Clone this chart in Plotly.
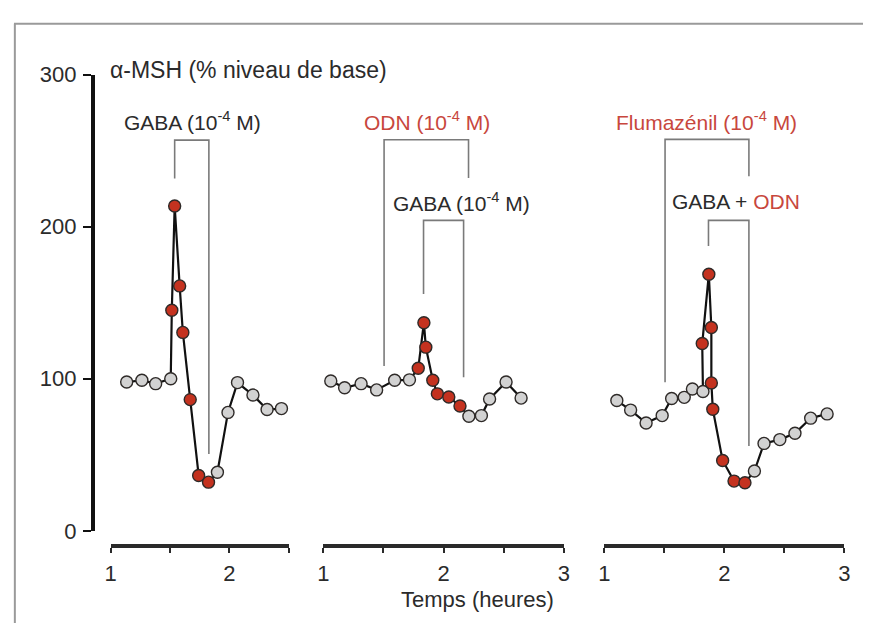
import plotly.graph_objects as go

# The page body keeps its default 8px margin, so the figure is drawn 8px
# in from the window edge; the figure is sized to fill the rest exactly.
OFF = 8
W, H = 877 - 2 * OFF, 644 - 2 * OFF

# ---------------- data ----------------
# Panel 1 : GABA
p1_t = [1.135, 1.263, 1.379, 1.506, 1.515, 1.539, 1.581, 1.608, 1.670, 1.741, 1.824,
        1.899, 1.988, 2.068, 2.198, 2.317, 2.438]
p1_v = [97.9, 99.0, 96.8, 100.0, 145.1, 213.7, 161.1, 130.5, 86.3, 36.4, 32.0,
        38.5, 77.9, 97.5, 89.3, 79.8, 80.4]
p1_red = [0, 0, 0, 0, 1, 1, 1, 1, 1, 1, 1, 0, 0, 0, 0, 0, 0]

# Panel 2 : ODN + GABA
p2_t = [1.062, 1.177, 1.314, 1.443, 1.593, 1.716, 1.789, 1.836, 1.852, 1.910, 1.948,
        2.043, 2.136, 2.210, 2.314, 2.382, 2.519, 2.644]
p2_v = [98.5, 94.1, 96.8, 92.7, 99.0, 99.3, 106.9, 136.9, 120.8, 99.0, 90.1,
        88.0, 82.1, 75.4, 75.8, 86.7, 97.9, 87.3]
p2_red = [0, 0, 0, 0, 0, 0, 1, 1, 1, 1, 1, 1, 1, 0, 0, 0, 0, 0]

# Panel 3 : Flumazenil + GABA + ODN
p3_t = [1.104, 1.219, 1.348, 1.482, 1.561, 1.666, 1.734, 1.822, 1.816, 1.871, 1.892,
        1.892, 1.904, 1.986, 2.081, 2.172, 2.251, 2.331, 2.463, 2.589, 2.720, 2.857]
p3_v = [85.7, 79.4, 70.9, 75.8, 87.0, 87.8, 93.3, 91.6, 123.2, 168.8, 133.7,
        97.3, 80.0, 46.3, 32.7, 31.6, 39.3, 57.5, 60.0, 64.2, 74.1, 76.9]
p3_red = [0, 0, 0, 0, 0, 0, 0, 0, 1, 1, 1, 1, 1, 1, 1, 1, 0, 0, 0, 0, 0, 0]

# Treatment brackets (time, value) paths
br1_gaba_t = [1.539, 1.539, 1.827, 1.827]
br1_gaba_v = [231.8, 257.0, 257.0, 50.5]
br2_odn_t = [1.505, 1.505, 2.207, 2.207]
br2_odn_v = [108.4, 257.2, 257.2, 232.0]
br2_gaba_t = [1.833, 1.833, 2.166, 2.166]
br2_gaba_v = [155.8, 204.2, 204.2, 101.0]
br3_flu_t = [1.506, 1.506, 2.205, 2.205]
br3_flu_v = [97.7, 257.5, 257.5, 233.2]
br3_mix_t = [1.868, 1.868, 2.205, 2.205]
br3_mix_v = [187.3, 204.2, 204.2, 55.8]

y_ticks = [0, 100, 200, 300]
x1_ticks = [1, 1.5, 2, 2.5]
x1_text = ["1", "", "2", ""]
x23_ticks = [1, 1.5, 2, 2.5, 3]
x23_text = ["1", "", "2", "", "3"]

y_title = "α-MSH (% niveau de base)"
x_title = "Temps (heures)"

# ---------------- style ----------------
FONT = "Liberation Sans, Arial, sans-serif"
TXT = "#2b2b2b"
RED_TXT = "#c8473d"
RED = "#c4321f"
GREY = "#d2d2d2"
EDGE = "#2e2a28"
BR = "#7a7a7a"
FS_TITLE = 23
FS = 21


def px_x(p):
    return (p - OFF) / W


def px_y(p):
    return 1 - (p - OFF) / H


fig = go.Figure()


def add_series(t, v, red, xa):
    fig.add_trace(go.Scatter(
        x=t, y=v, xaxis=xa, yaxis="y", mode="lines+markers",
        line=dict(color="#111111", width=2.2),
        marker=dict(size=12, color=[RED if r else GREY for r in red],
                    line=dict(color=EDGE, width=1.4)),
        cliponaxis=False, showlegend=False, hoverinfo="skip"))


def add_bracket(t, v, xa):
    fig.add_trace(go.Scatter(
        x=t, y=v, xaxis=xa, yaxis="y", mode="lines",
        line=dict(color=BR, width=1.6), cliponaxis=False,
        showlegend=False, hoverinfo="skip"))


add_bracket(br1_gaba_t, br1_gaba_v, "x")
add_bracket(br2_odn_t, br2_odn_v, "x2")
add_bracket(br2_gaba_t, br2_gaba_v, "x2")
add_bracket(br3_flu_t, br3_flu_v, "x3")
add_bracket(br3_mix_t, br3_mix_v, "x3")
add_series(p1_t, p1_v, p1_red, "x")
add_series(p2_t, p2_v, p2_red, "x2")
add_series(p3_t, p3_v, p3_red, "x3")

xcommon = dict(anchor="free", position=px_y(556), showgrid=False, zeroline=False,
               showline=True, linecolor="#2a2a2a", linewidth=4,
               ticks="outside", ticklen=5, tickwidth=1.5, tickcolor="#2a2a2a",
               tickfont=dict(family=FONT, size=22, color=TXT),
               ticklabelstandoff=1, fixedrange=True)

fig.update_layout(
    width=W, height=H,
    margin=dict(l=0, r=0, t=0, b=0),
    paper_bgcolor="white", plot_bgcolor="rgba(0,0,0,0)",
    xaxis=dict(domain=[px_x(106), px_x(286.7)], range=[1, 2.5],
               tickvals=x1_ticks, ticktext=x1_text, **xcommon),
    xaxis2=dict(domain=[px_x(321.7), px_x(565.7)], range=[1, 3],
                tickvals=x23_ticks, ticktext=x23_text, **xcommon),
    xaxis3=dict(domain=[px_x(606.7), px_x(850)], range=[1, 3],
                tickvals=x23_ticks, ticktext=x23_text, **xcommon),
    yaxis=dict(domain=[px_y(540), px_y(65)], range=[0, 300],
               anchor="free", position=px_x(88),
               tickvals=y_ticks, showgrid=False, zeroline=False,
               showline=True, linecolor="#111111", linewidth=4,
               ticks="outside", ticklen=8, tickwidth=2, tickcolor="#111111",
               tickfont=dict(family=FONT, size=22, color=TXT),
               ticklabelstandoff=2, fixedrange=True),
    shapes=[
        dict(type="line", xref="paper", yref="paper",
             x0=0, x1=1, y0=px_y(12), y1=px_y(12),
             line=dict(color="#9a9a9a", width=2), layer="below"),
        dict(type="line", xref="paper", yref="paper",
             x0=0.001, x1=0.001, y0=0, y1=px_y(12),
             line=dict(color="#9a9a9a", width=2), layer="below"),
    ],
)

ann = []


def add_text(text, x, y, xref, yref, color=TXT, xanchor="center", size=FS):
    ann.append(dict(text=text, x=x, y=y, xref=xref, yref=yref, showarrow=False,
                    xanchor=xanchor, yanchor="middle",
                    font=dict(family=FONT, size=size, color=color)))


add_text(y_title, px_x(103), px_y(60), "paper", "paper", xanchor="left", size=FS_TITLE)
add_text(x_title, px_x(478), px_y(612), "paper", "paper", size=22)
add_text("GABA (10<sup>-4</sup> M)", 1.689, 269.7, "x", "y")
add_text("ODN (10<sup>-4</sup> M)", 1.861, 269.7, "x2", "y", color=RED_TXT)
add_text("GABA (10<sup>-4</sup> M)", 2.148, 216.0, "x2", "y")
add_text("Flumazénil (10<sup>-4</sup> M)", 1.849, 269.7, "x3", "y", color=RED_TXT)
add_text("GABA + <span style='color:%s'>ODN</span>" % RED_TXT, 2.096, 216.6, "x3", "y")
fig.update_layout(annotations=ann)

fig.write_html("out.html")
